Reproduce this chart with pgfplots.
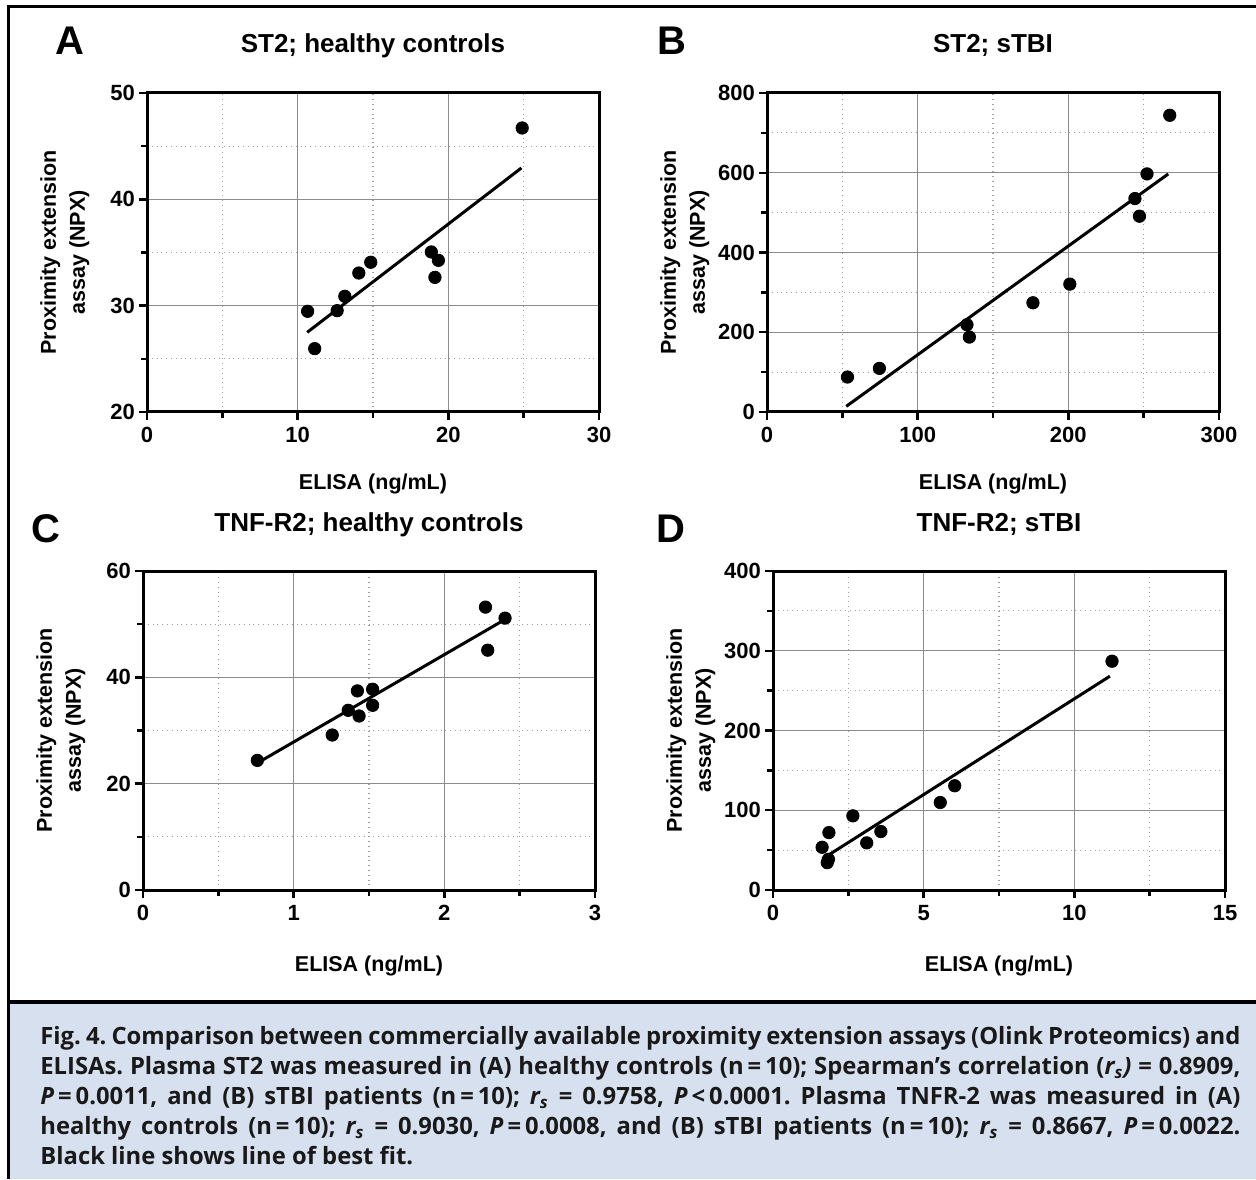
\documentclass[border=0pt]{standalone}
\usepackage{fontspec}
\setmainfont{Liberation Sans}
\newfontfamily\capfont{Open Sans}
\usepackage{pgfplots}
\pgfplotsset{compat=1.18}

\definecolor{capbg}{RGB}{215,224,238}
\newcommand\tickfont{\bfseries\fontsize{11}{12}\selectfont}
\newcommand\labfont{\bfseries\fontsize{10.75}{14.5}\selectfont}
\newcommand\titfont{\bfseries\fontsize{13}{15}\selectfont}
\newcommand\letfont{\bfseries\fontsize{20}{22}\selectfont}

\pgfplotsset{
  panel/.style={
    scale only axis, width=226pt, height=159.5pt, anchor=south west,
    axis line style={line width=1.5pt},
    tick pos=left, tick align=outside,
    major tick length=4pt, minor tick length=3pt,
    tick style={black, line width=1.2pt},
    minor x tick num=1, minor y tick num=1,
    grid=both,
    major grid style={gray!90, line width=0.6pt},
    minor grid style={gray!75, dotted, line width=0.6pt},
    ticklabel style={font=\tickfont},
    yticklabel style={xshift=1.5pt},
    /pgf/number format/assume math mode=true,
    xlabel={ELISA (ng/mL)},
    ylabel={Proximity extension\\assay (NPX)},
    xlabel style={font=\labfont, at={(axis description cs:0.5,0)}, anchor=base, yshift=-39pt},
    ylabel style={font=\labfont, align=center, at={(axis description cs:-0.112,0.5)}, anchor=south},
    title style={font=\titfont, at={(axis description cs:0.5,1)}, anchor=base, yshift=14pt},
  },
  dots/.style={only marks, mark=*, mark size=3.1pt, black},
  fit/.style={black, line width=1.5pt, no marks},
}

\begin{document}
\begin{tikzpicture}[x=0.5pt, y=0.5pt]
\useasboundingbox (0,0) rectangle (1256,1179);

% caption box and frame
\fill[capbg] (8,0) rectangle (1256,177);
\draw[line width=1.8pt] (8,177) -- (1256,177);
\draw[line width=1.5pt] (8,0) -- (8,1172) -- (1256,1172);

% A
\begin{axis}[panel, at={(73.5pt,383.5pt)}, title={ST2; healthy controls},
  xmin=0, xmax=30, ymin=20, ymax=50, xtick={0,10,20,30}, ytick={20,30,40,50}]
\addplot[dots] coordinates {
 (10.66,29.47) (11.13,25.96) (12.62,29.53) (13.13,30.88) (14.06,33.07)
 (14.85,34.08) (18.87,35.05) (19.34,34.26) (19.11,32.66) (24.90,46.71)};
\addplot[fit] coordinates {(10.63,27.49) (24.85,42.95)};
\end{axis}

% B
\begin{axis}[panel, at={(383.5pt,383.5pt)}, title={ST2; sTBI},
  xmin=0, xmax=300, ymin=0, ymax=800, xtick={0,100,200,300}, ytick={0,200,400,600,800}]
\addplot[dots] coordinates {
 (53.4,87.7) (74.6,109.4) (132.7,218.8) (134.3,187.9) (176.5,273.9)
 (201.0,320.7) (244.2,535.3) (247.2,491.0) (252.2,597.1) (267.3,744.1)};
\addplot[fit] coordinates {(52.6,14.2) (266.3,597)};
\end{axis}

% C
\begin{axis}[panel, at={(71.5pt,144.5pt)}, title={TNF-R2; healthy controls},
  xmin=0, xmax=3, ymin=0, ymax=60, xtick={0,1,2,3}, ytick={0,20,40,60},
  xlabel style={yshift=-1.5pt}]
\addplot[dots] coordinates {
 (0.759,24.38) (1.256,29.15) (1.362,33.80) (1.423,37.45) (1.434,32.73)
 (1.524,37.76) (1.524,34.74) (2.273,53.21) (2.288,45.11) (2.403,51.14)};
\addplot[fit] coordinates {(0.751,23.75) (2.384,50.58)};
\end{axis}

% D
\begin{axis}[panel, at={(386.5pt,144.5pt)}, title={TNF-R2; sTBI},
  xmin=0, xmax=15, ymin=0, ymax=400, xtick={0,5,10,15}, ytick={0,100,200,300,400},
  xlabel style={yshift=-1.5pt}]
\addplot[dots] coordinates {
 (1.63,53.6) (1.855,72.0) (1.84,38.5) (1.80,34.3) (2.65,93.0)
 (3.11,59.1) (3.58,73.3) (5.55,109.7) (6.03,130.7) (11.25,286.9)};
\addplot[fit] coordinates {(1.64,38.95) (11.18,268.1)};
\end{axis}

% panel letters
\node[anchor=base west, inner sep=0, font=\letfont] at (55,1124) {A};
\node[anchor=base west, inner sep=0, font=\letfont] at (657,1124) {B};
\node[anchor=base west, inner sep=0, font=\letfont] at (31,637) {C};
\node[anchor=base west, inner sep=0, font=\letfont] at (656,637) {D};

% caption
\node[anchor=north west, inner sep=0, text width=600pt, align=justify,
  font=\capfont\bfseries\fontsize{11.9}{15}\selectfont\frenchspacing, text=black!90] at (40,153) {%
Fig. 4. Comparison between commercially available proximity extension assays (Olink Proteomics) and\linebreak
ELISAs. Plasma ST2 was measured in (A) healthy controls (n\,=\,10); Spearman’s correlation (\textit{r\textsubscript{s})} = 0.8909,\linebreak
\textit{P}\,=\,0.0011, and (B) sTBI patients (n\,=\,10); \textit{r\textsubscript{s}} = 0.9758, \textit{P}\,<\,0.0001. Plasma TNFR-2 was measured in (A)\linebreak
healthy controls (n\,=\,10); \textit{r\textsubscript{s}} = 0.9030, \textit{P}\,=\,0.0008, and (B) sTBI patients (n\,=\,10); \textit{r\textsubscript{s}} = 0.8667, \textit{P}\,=\,0.0022.\linebreak
Black line shows line of best fit.};
\end{tikzpicture}
\end{document}
